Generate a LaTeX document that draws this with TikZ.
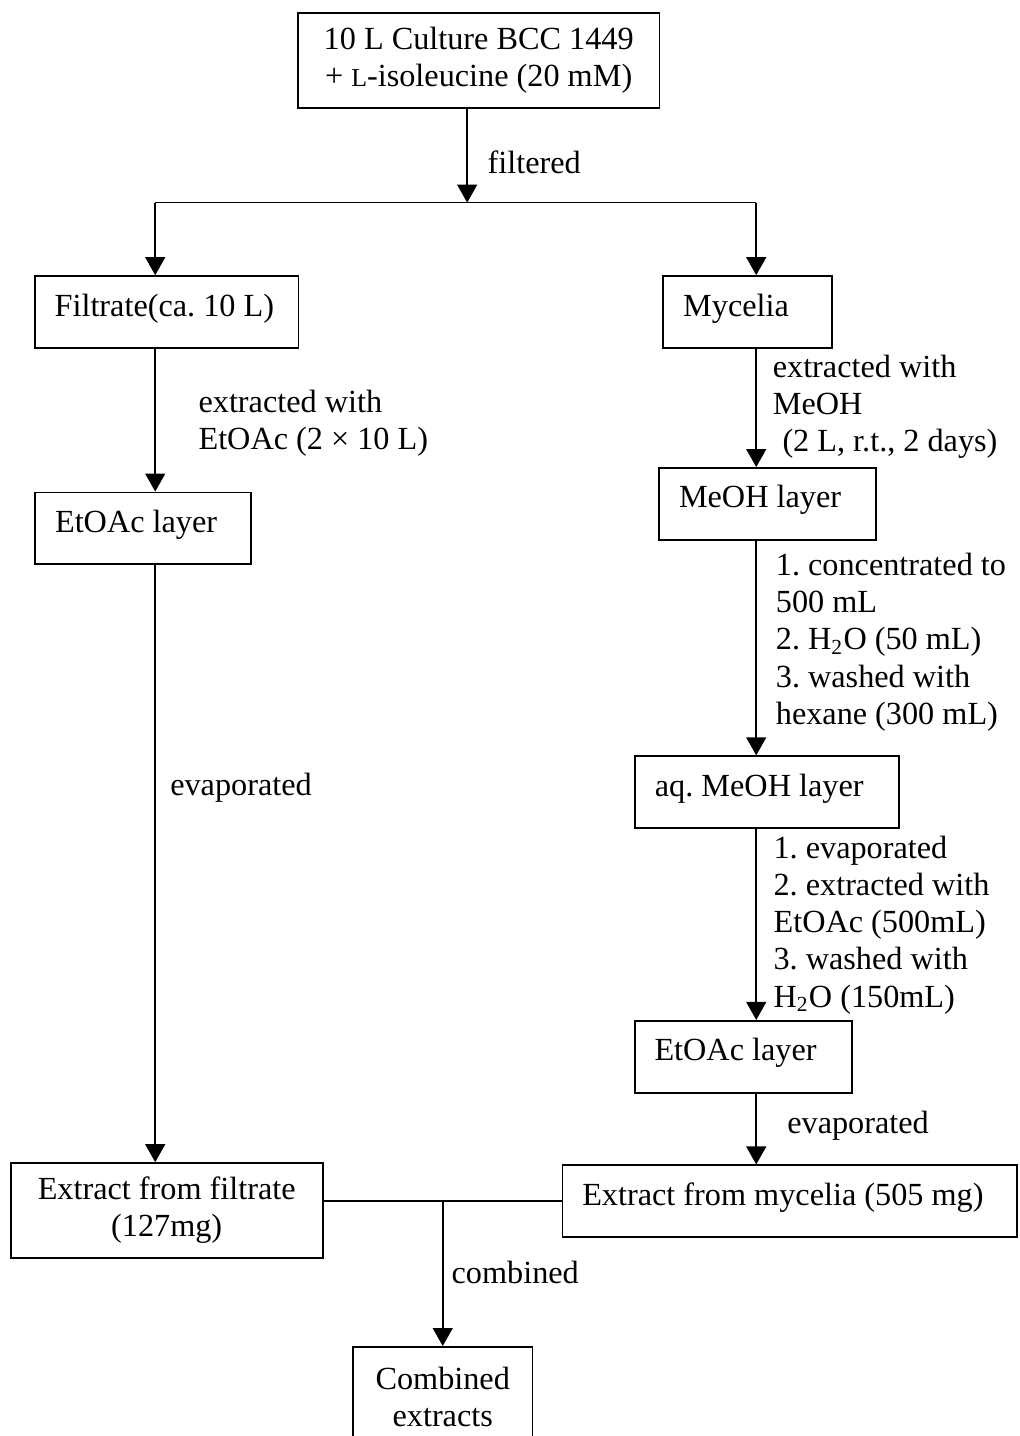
\documentclass[tikz,border=0pt]{standalone}
\usepackage{fontspec}
\setmainfont{Liberation Serif}
\usetikzlibrary{arrows.meta, positioning}
\frenchspacing

\begin{document}
\begin{tikzpicture}[
    box/.style={rectangle, draw, line width=0.65pt, align=center, inner sep=0pt, font=\fontsize{12}{13.8}\selectfont},
    layer/.style={box, align=flush left, text width=#1, inner xsep=0.26cm, minimum height=0.94cm, text height=8pt, text depth=5pt},
    lbl/.style={inner sep=0pt, anchor=north west, align=left, font=\fontsize{12}{13.8}\selectfont},
    arrow/.style={-{Triangle[length=6.7pt, width=7.4pt]}, line width=0.6pt},
    line/.style={line width=0.6pt}
]
\useasboundingbox (0, 0) rectangle (13.33, -18.78);

% Boxes at absolute positions
\node[box, minimum width=4.73cm, minimum height=1.24cm] (culture) at (6.26, -0.79) {10 L Culture BCC 1449\\+ {\fontsize{9.6}{13.8}\selectfont L}-isoleucine (20 mM)};
\node[layer=2.93cm] (filtrate) at (2.18, -4.08) {Filtrate(ca. 10 L)};
\node[layer=2.30cm] (etoacL) at (1.87, -6.91) {EtOAc layer};
\node[layer=1.69cm] (mycelia) at (9.78, -4.08) {Mycelia};
\node[layer=2.32cm] (meoh) at (10.04, -6.59) {MeOH layer};
\node[layer=2.93cm] (aqmeoh) at (10.03, -10.36) {aq. MeOH layer};
\node[layer=2.32cm] (etoacR) at (9.72, -13.82) {EtOAc layer};
\node[layer=5.43cm] (extmyc) at (10.33, -15.71) {Extract from mycelia (505 mg)};
\node[box, minimum width=4.08cm, minimum height=1.24cm] (extfil) at (2.18, -15.83) {Extract from filtrate\\(127mg)};
\node[box, minimum width=2.35cm, minimum height=1.31cm] (combined) at (5.79, -18.27) {Combined\\extracts};

% Branch points
\coordinate (fork) at (6.11, -2.65);
\coordinate (forkL) at (2.03, -2.65);
\coordinate (forkR) at (9.89, -2.65);
\coordinate (join) at (5.79, -15.71);

% Step labels
\node[lbl] (filtered) at (6.37, -1.96) {filtered};
\node[lbl] (extEtOAc) at (2.59, -5.10) {extracted with\\EtOAc (2 × 10 L)};
\node[lbl] (evapL) at (2.22, -10.11) {evaporated};
\node[lbl] (extMeOH) at (10.10, -4.64) {extracted with\\MeOH\\\hspace*{0.3em}(2 L, r.t., 2 days)};
\node[lbl] (conc) at (10.14, -7.23) {1. concentrated to\\500 mL\\2. H\textsubscript{2}O (50 mL)\\3. washed with\\hexane (300 mL)};
\node[lbl] (evapList) at (10.11, -10.93) {1. evaporated\\2. extracted with\\EtOAc (500mL)\\3. washed with\\H\textsubscript{2}O (150mL)};
\node[lbl] (evapR) at (10.29, -14.52) {evaporated};
\node[lbl] (combLbl) at (5.90, -16.49) {combined};

% Arrows
\draw[arrow] (culture.south -| fork) -- (fork);
\draw[line] (forkL) -- (forkR);
\draw[arrow] (forkL) -- (filtrate.north -| forkL);
\draw[arrow] (forkR) -- (mycelia.north -| forkR);
\draw[arrow] (filtrate.south -| forkL) -- (etoacL.north -| forkL);
\draw[arrow] (etoacL.south -| forkL) -- (extfil.north -| forkL);
\draw[arrow] (mycelia.south -| forkR) -- (meoh.north -| forkR);
\draw[arrow] (meoh.south -| forkR) -- (aqmeoh.north -| forkR);
\draw[arrow] (aqmeoh.south -| forkR) -- (etoacR.north -| forkR);
\draw[arrow] (etoacR.south -| forkR) -- (extmyc.north -| forkR);
\draw[line] (extfil.east |- extmyc.west) -- (extmyc.west);
\draw[arrow] (join) -- (combined.north);

\end{tikzpicture}
\end{document}
